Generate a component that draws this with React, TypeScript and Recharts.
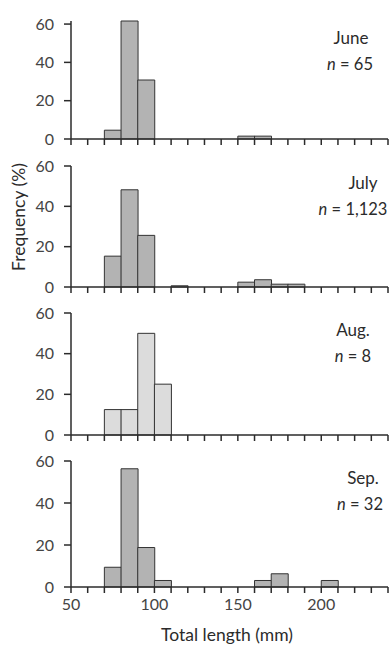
import { Bar, BarChart, XAxis, YAxis } from "recharts";

// lower edge of each 10 mm length class
const binStarts = [50, 60, 70, 80, 90, 100, 110, 120, 130, 140, 150, 160, 170, 180, 190, 200, 210, 220, 230];

const months = ["June", "July", "Aug.", "Sep."];
const sampleSizes = ["65", "1,123", "8", "32"];

// frequency (%) per length class
const juneFreq = [0, 0, 4.6, 61.6, 30.8, 0, 0, 0, 0, 0, 1.5, 1.5, 0, 0, 0, 0, 0, 0, 0];
const julyFreq = [0, 0, 15.3, 48.2, 25.6, 0, 0.6, 0, 0, 0, 2.4, 3.6, 1.4, 1.4, 0, 0, 0, 0, 0];
const augFreq = [0, 0, 12.5, 12.5, 50, 25, 0, 0, 0, 0, 0, 0, 0, 0, 0, 0, 0, 0, 0];
const sepFreq = [0, 0, 9.4, 56.3, 18.8, 3.1, 0, 0, 0, 0, 0, 3.1, 6.3, 0, 0, 3.1, 0, 0, 0];

const lengthTicks = [50, 60, 70, 80, 90, 100, 110, 120, 130, 140, 150, 160, 170, 180, 190, 200, 210, 220, 230, 240];
const labelledLengths = [50, 100, 150, 200];
const freqTicks = [0, 20, 40, 60];

const series = [juneFreq, julyFreq, augFreq, sepFreq];

// layout (page pixels)
const W = 389;
const H = 646;
const PLOT_LEFT = 71;
const PLOT_RIGHT = 388;
const PANEL_TOP = [21, 166, 313, 461];
const PANEL_BOTTOM = [139, 287, 435, 587];
const TITLE_X = [351, 363, 353, 363];
const N_X = [350, 353, 353, 360];
const FILLS = ["#b3b3b3", "#b3b3b3", "#dcdcdc", "#b3b3b3"];

const FONT = "Lato, 'Open Sans', sans-serif";
const INK = "#2b2b2b";

function Panel({ idx }: { idx: number }) {
  const top = PANEL_TOP[idx];
  const bottom = PANEL_BOTTOM[idx];
  const last = idx === series.length - 1;
  const mt = 10;
  const axisH = last ? 34 : 10;
  // bars sit at the class midpoint on a numeric length axis
  const data = binStarts.map((s, i) => ({ mid: s + 5, freq: series[idx][i] }));

  return (
    <div style={{ position: "absolute", left: 0, top: top - mt }}>
      <BarChart
        width={W}
        height={mt + (bottom - top) + axisH}
        data={data}
        margin={{ top: mt, right: W - PLOT_RIGHT, left: 0, bottom: 0 }}
        barCategoryGap={0}
        barGap={0}
      >
        <XAxis
          dataKey="mid"
          type="number"
          domain={[50, 240]}
          allowDataOverflow
          ticks={lengthTicks}
          interval={0}
          height={axisH}
          tickSize={6}
          tickMargin={6}
          stroke={INK}
          strokeWidth={1.5}
          tick={{ fill: "#444", fontSize: 16, fontFamily: FONT }}
          tickFormatter={(v: number) => (last && labelledLengths.includes(v) ? String(v) : "")}
        />
        <YAxis
          width={PLOT_LEFT}
          domain={[0, 60]}
          ticks={freqTicks}
          interval={0}
          tickSize={7}
          tickMargin={10}
          stroke={INK}
          strokeWidth={1.5}
          tick={{ fill: "#444", fontSize: 16, fontFamily: FONT }}
        />
        <Bar
          dataKey="freq"
          fill={FILLS[idx]}
          stroke="#333"
          strokeWidth={1}
          isAnimationActive={false}
        />
      </BarChart>
    </div>
  );
}

export default function App() {
  return (
    <div style={{ position: "absolute", left: 0, top: 0, width: W, height: H, background: "#fff" }}>
      {series.map((_, i) => (
        <Panel key={i} idx={i} />
      ))}
      <svg
        width={W}
        height={H}
        style={{ position: "absolute", left: 0, top: 0, pointerEvents: "none" }}
        fontFamily={FONT}
        fill={INK}
      >
        {months.map((m, i) => (
          <g key={m}>
            <text x={TITLE_X[i]} y={PANEL_TOP[i] + 23} textAnchor="middle" fontSize={17}>
              {m}
            </text>
            <text x={N_X[i]} y={PANEL_TOP[i] + 49} textAnchor="middle" fontSize={16.5}>
              <tspan fontStyle="italic">n</tspan> = {sampleSizes[i]}
            </text>
          </g>
        ))}
        <text
          x={18}
          y={217}
          transform="rotate(-90 18 217)"
          textAnchor="middle"
          dominantBaseline="central"
          fontSize={17.5}
        >
          Frequency (%)
        </text>
        <text x={227} y={641} textAnchor="middle" fontSize={17.5}>
          Total length (mm)
        </text>
      </svg>
    </div>
  );
}
